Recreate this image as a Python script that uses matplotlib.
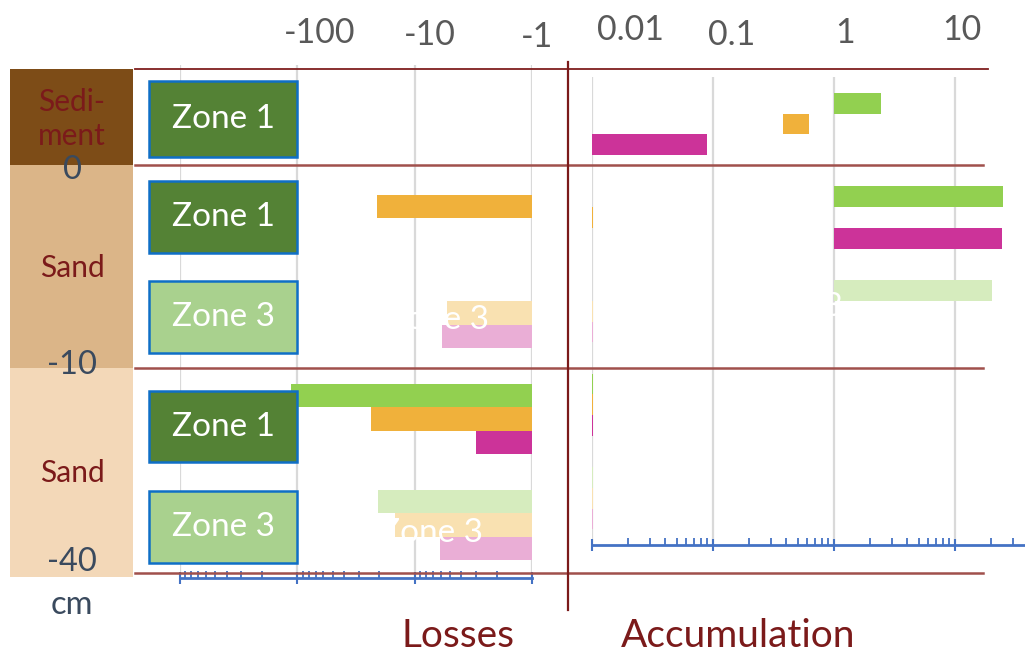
import matplotlib
matplotlib.use("Agg")
import matplotlib.pyplot as plt
from matplotlib.patches import Rectangle
from matplotlib.ticker import LogLocator, NullFormatter
import numpy as np

plt.rcParams['font.family'] = ['Lato', 'DejaVu Sans']

# rows of the profile (top to bottom)
rows = ["Sediment / Zone 1", "Sand 0-10 / Zone 1", "Sand 0-10 / Zone 3",
        "Sand 10-40 / Zone 1", "Sand 10-40 / Zone 3"]
zone_labels = ["Zone 1", "Zone 1", "Zone 3", "Zone 1", "Zone 3"]
is_zone3 = [False, False, True, False, True]

# losses (negative values, None = no bar)
loss_s1 = [None, None, None, -114, -20.5]
loss_s2 = [None, -21, -5.3, -23.5, -14.7]
loss_s3 = [None, None, -5.9, -3.0, -6.1]

# accumulation: bar start and end values (log axis)
acc_s1_start = [1, 1, 1, 0.01, 0.01]
acc_s1_end = [2.44, 25.0, 20.3, 0.0102, 0.0102]
acc_s2_start = [0.38, 0.01, 0.01, 0.01, 0.01]
acc_s2_end = [0.62, 0.0102, 0.0102, 0.0102, 0.0102]
acc_s3_start = [0.01, 1, 0.01, 0.01, 0.01]
acc_s3_end = [0.089, 24.6, 0.0102, 0.0102, 0.0102]

loss_ticks = [-100, -10, -1]
acc_ticks = ["0.01", "0.1", "1", "10"]

layers = ["Sedi-\nment", "Sand", "Sand"]
depths = ["0", "-10", "-40", "cm"]

colors = ['#92D050', '#F0B13B', '#CC3399']
colors_light = ['#D6ECBE', '#F9E1B1', '#EAAED6']

W, H = 1025, 657
fig = plt.figure(figsize=(W / 100, H / 100), dpi=100)


def pix_axes(x0, y0, x1, y1):
    return fig.add_axes([x0 / W, 1 - y1 / H, (x1 - x0) / W, (y1 - y0) / H])


def overlay(z):
    ax = fig.add_axes([0, 0, 1, 1])
    ax.set_xlim(0, W)
    ax.set_ylim(H, 0)
    ax.axis('off')
    ax.patch.set_alpha(0)
    ax.set_zorder(z)
    return ax


# background: soil column
bg = overlay(0)
bg.add_patch(Rectangle((10, 69), 123, 96, color='#7D4C17', lw=0))
bg.add_patch(Rectangle((10, 165), 123, 203, color='#DBB588', lw=0))
bg.add_patch(Rectangle((10, 368), 123, 209, color='#F3D8B8', lw=0))
layer_y = [119, 268, 473]
for txt, y in zip(layers, layer_y):
    bg.text(72, y, txt, ha='center', va='center', fontsize=21.5,
            color='#7B1A1A', linespacing=1.3)
depth_y = [170, 365, 562, 605]
for txt, y in zip(depths, depth_y):
    bg.text(72, y, txt, ha='center', va='center', fontsize=23.5, color='#3A4A5E')

h = 0.222
offsets = [-h, 0, h]
y = np.arange(len(rows))

# ---- losses panel
axL = pix_axes(180, 65, 532, 578)
axL.set_zorder(1)
axL.patch.set_alpha(0)
axL.set_xscale('log')
axL.set_xlim(1000, 1)
axL.set_ylim(4.5, -0.335)
for i, ser in enumerate([loss_s1, loss_s2, loss_s3]):
    for j, v in enumerate(ser):
        if v is None:
            continue
        c = colors_light[i] if is_zone3[j] else colors[i]
        axL.barh(y[j] + offsets[i], abs(v) - 1, left=1, height=h, color=c, lw=0)

# ---- accumulation panel
axR = pix_axes(592, 77.25, 1025, 545)
axR.set_zorder(1)
axR.patch.set_alpha(0)
axR.set_xscale('log')
axR.set_xlim(0.01, 37.9)
axR.set_ylim(4.5, -0.5)
starts = [acc_s1_start, acc_s2_start, acc_s3_start]
ends = [acc_s1_end, acc_s2_end, acc_s3_end]
for i in range(3):
    for j in range(len(rows)):
        c = colors_light[i] if is_zone3[j] else colors[i]
        axR.barh(y[j] + offsets[i], ends[i][j] - starts[i][j], left=starts[i][j],
                 height=h, color=c, lw=0)

for ax in (axL, axR):
    ax.set_axisbelow(True)
    ax.xaxis.grid(True, which='major', color='#D9D9D9', lw=1.6)
    for s in ['top', 'left', 'right']:
        ax.spines[s].set_visible(False)
    ax.spines['bottom'].set_color('#4472C4')
    ax.spines['bottom'].set_linewidth(2)
    ax.xaxis.set_major_locator(LogLocator(base=10))
    ax.xaxis.set_minor_locator(LogLocator(base=10, subs=np.arange(2, 10)))
    ax.xaxis.set_minor_formatter(NullFormatter())
    ax.tick_params(axis='x', which='major', direction='inout', length=8,
                   width=1.5, color='#4472C4', labelbottom=False)
    ax.tick_params(axis='x', which='minor', direction='in', length=5,
                   width=1.3, color='#4472C4', labelbottom=False)
    ax.tick_params(axis='y', left=False, labelleft=False)

# foreground: layer boundaries and zone boxes
fg = overlay(2)
fg.plot([135, 988], [69, 69], color='#7F1F1F', lw=1.3)
for yy in [165, 368, 573]:
    fg.plot([135, 983], [yy, yy], color='#A0504C', lw=1.8)
fg.plot([568, 568], [62, 610], color='#7B1A1A', lw=1.6)

box_y = [(81, 157), (181, 253), (281, 353), (391, 462), (491, 563)]
for lab, z3, (y0, y1) in zip(zone_labels, is_zone3, box_y):
    fc = '#A9D18E' if z3 else '#548235'
    fg.add_patch(Rectangle((149, y0), 148, y1 - y0, facecolor=fc,
                           edgecolor='#0F6FC6', lw=1.8))
    fg.text(223, (y0 + y1) / 2, lab, ha='center', va='center',
            fontsize=24, color='white')

# top tick labels
loss_lab_pos = [(320, 33), (430, 35), (537, 37)]
for t, (px, py) in zip(loss_ticks, loss_lab_pos):
    fig.text(px / W, 1 - py / H, str(t), ha='center', va='center',
             fontsize=24.5, color='#595959')
acc_lab_pos = [(630, 30), (732, 35), (845, 33), (962, 30)]
for t, (px, py) in zip(acc_ticks, acc_lab_pos):
    fig.text(px / W, 1 - py / H, t, ha='center', va='center',
             fontsize=24.5, color='#595959')

# stray white labels lying over the bars
for px, py in [(437, 320), (432, 533), (792, 307)]:
    fig.text(px / W, 1 - py / H, "Zone 3", ha='center', va='center',
             fontsize=24, color='white', zorder=5)

fig.text(458 / W, 1 - 636 / H, "Losses", ha='center', va='center',
         fontsize=28, color='#7B1A1A')
fig.text(738 / W, 1 - 636 / H, "Accumulation", ha='center', va='center',
         fontsize=28, color='#7B1A1A')

fig.savefig('out.png', dpi=100)
